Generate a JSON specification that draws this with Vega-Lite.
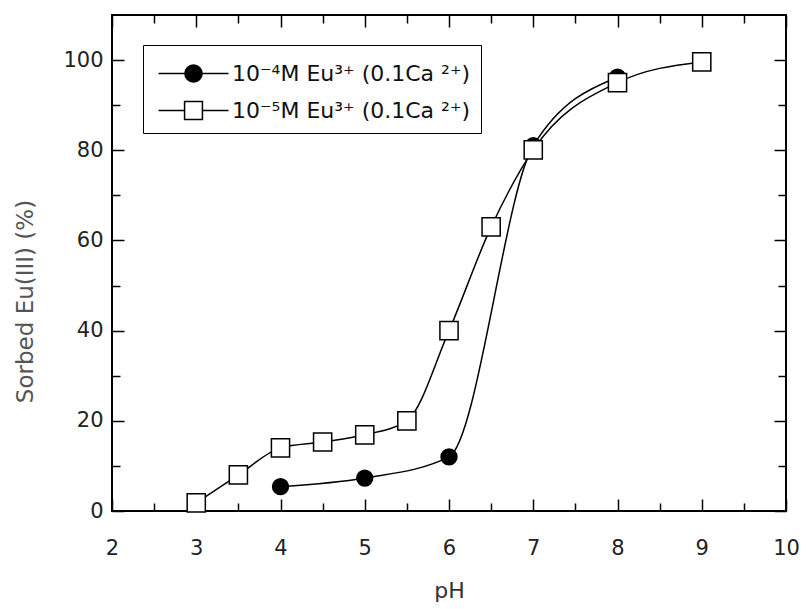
{
  "$schema": "https://vega.github.io/schema/vega-lite/v6.json",
  "width": 674,
  "height": 496,
  "autosize": "none",
  "padding": {"left": 112, "top": 15, "right": 22, "bottom": 98},
  "background": "white",
  "config": {
    "view": {"stroke": "black", "strokeWidth": 2},
    "font": "DejaVu Sans",
    "axis": {"labelFont": "DejaVu Sans", "titleFont": "DejaVu Sans", "grid": false, "domain": false, "tickColor": "black", "tickWidth": 1.5},
    "legend": {"labelFont": "DejaVu Sans"}
  },
  "data": {
    "values": [
      {"series": "10⁻⁴M Eu³⁺ (0.1Ca ²⁺)", "pH": 4, "sorbed": 5.4},
      {"series": "10⁻⁴M Eu³⁺ (0.1Ca ²⁺)", "pH": 5, "sorbed": 7.3},
      {"series": "10⁻⁴M Eu³⁺ (0.1Ca ²⁺)", "pH": 6, "sorbed": 12},
      {"series": "10⁻⁴M Eu³⁺ (0.1Ca ²⁺)", "pH": 7, "sorbed": 81},
      {"series": "10⁻⁴M Eu³⁺ (0.1Ca ²⁺)", "pH": 8, "sorbed": 96.2},
      {"series": "10⁻⁵M Eu³⁺ (0.1Ca ²⁺)", "pH": 3, "sorbed": 1.8},
      {"series": "10⁻⁵M Eu³⁺ (0.1Ca ²⁺)", "pH": 3.5, "sorbed": 8},
      {"series": "10⁻⁵M Eu³⁺ (0.1Ca ²⁺)", "pH": 4, "sorbed": 14},
      {"series": "10⁻⁵M Eu³⁺ (0.1Ca ²⁺)", "pH": 4.5, "sorbed": 15.3},
      {"series": "10⁻⁵M Eu³⁺ (0.1Ca ²⁺)", "pH": 5, "sorbed": 16.9},
      {"series": "10⁻⁵M Eu³⁺ (0.1Ca ²⁺)", "pH": 5.5, "sorbed": 20},
      {"series": "10⁻⁵M Eu³⁺ (0.1Ca ²⁺)", "pH": 6, "sorbed": 40},
      {"series": "10⁻⁵M Eu³⁺ (0.1Ca ²⁺)", "pH": 6.5, "sorbed": 63},
      {"series": "10⁻⁵M Eu³⁺ (0.1Ca ²⁺)", "pH": 7, "sorbed": 80.1},
      {"series": "10⁻⁵M Eu³⁺ (0.1Ca ²⁺)", "pH": 8, "sorbed": 95},
      {"series": "10⁻⁵M Eu³⁺ (0.1Ca ²⁺)", "pH": 9, "sorbed": 99.6}
    ]
  },
  "layer": [
    {
      "mark": {"type": "line", "interpolate": "monotone", "color": "black", "strokeWidth": 1.5},
      "encoding": {
        "x": {"field": "pH", "type": "quantitative", "scale": {"domain": [2, 10], "nice": false, "zero": false},
          "axis": {"orient": "bottom", "values": [2, 3, 4, 5, 6, 7, 8, 9, 10], "tickSize": -12, "labelFontSize": 21, "labelColor": "#222", "labelPadding": 38, "labelFlush": false,
            "title": "pH", "titleFontSize": 22, "titleFontWeight": "normal", "titleColor": "#333", "titleY": 79, "titleBaseline": "middle"}},
        "y": {"field": "sorbed", "type": "quantitative", "scale": {"domain": [0, 110], "nice": false, "zero": true},
          "axis": {"orient": "left", "values": [0, 20, 40, 60, 80, 100], "tickSize": -12, "labelFontSize": 21, "labelColor": "#222", "labelPadding": 21, "labelFlush": false,
            "title": "Sorbed Eu(III) (%)", "titleFontSize": 23, "titleFontWeight": "normal", "titleColor": "#555", "titleX": -87, "titleY": 286, "titleBaseline": "middle", "titleAngle": -90}},
        "detail": {"field": "series", "type": "nominal"}
      }
    },
    {
      "transform": [{"filter": "indexof(datum.series, '⁻⁴') >= 0"}],
      "mark": {"type": "point", "shape": "circle", "filled": true, "stroke": "black", "strokeWidth": 1.5, "opacity": 1, "size": 250},
      "encoding": {
        "x": {"field": "pH", "type": "quantitative",
          "axis": {"orient": "top", "values": [2, 3, 4, 5, 6, 7, 8, 9, 10], "tickSize": -12, "labels": false, "title": null}},
        "y": {"field": "sorbed", "type": "quantitative",
          "axis": {"orient": "right", "values": [0, 20, 40, 60, 80, 100], "tickSize": -12, "labels": false, "title": null}},
        "fill": {"field": "series", "type": "nominal",
          "scale": {"domain": ["10⁻⁴M Eu³⁺ (0.1Ca ²⁺)", "10⁻⁵M Eu³⁺ (0.1Ca ²⁺)"], "range": ["black", "white"]},
          "legend": {"title": null, "orient": "none", "legendX": 31, "legendY": 30, "direction": "vertical",
            "fillColor": "white", "strokeColor": "black", "padding": 10, "symbolSize": 1225, "symbolOffset": 22,
            "symbolType": {"expr": "indexof(datum.value, '⁻⁴') >= 0 ? 'M-2,0L-0.49,0M0.49,0L2,0M-0.49,0A0.49,0.49,0,1,1,0.49,0A0.49,0.49,0,1,1,-0.49,0Z' : 'M-2,0L-0.51,0M0.51,0L2,0M-0.51,-0.51L0.51,-0.51L0.51,0.51L-0.51,0.51Z'"},
            "symbolStrokeColor": "black", "symbolStrokeWidth": 1.5, "labelOffset": 20, "labelFontSize": 22, "labelLimit": 400, "labelColor": "#111", "rowPadding": 6,
            "encode": {
              "symbols": {
                "stroke": {"value": "black"},
                "strokeWidth": {"value": 1.5}
              },
              "legend": {"strokeWidth": {"value": 2}}
            }}}
      }
    },
    {
      "transform": [{"filter": "indexof(datum.series, '⁻⁵') >= 0"}],
      "mark": {"type": "point", "shape": "square", "filled": true, "stroke": "black", "strokeWidth": 1.5, "opacity": 1, "size": 330},
      "encoding": {
        "x": {"field": "pH", "type": "quantitative",
          "axis": {"orient": "bottom", "values": [2.5, 3.5, 4.5, 5.5, 6.5, 7.5, 8.5, 9.5], "tickSize": -8, "labels": false, "title": null}},
        "y": {"field": "sorbed", "type": "quantitative",
          "axis": {"orient": "left", "values": [10, 30, 50, 70, 90], "tickSize": -8, "labels": false, "title": null}},
        "fill": {"field": "series", "type": "nominal",
          "scale": {"domain": ["10⁻⁴M Eu³⁺ (0.1Ca ²⁺)", "10⁻⁵M Eu³⁺ (0.1Ca ²⁺)"], "range": ["black", "white"]},
          "legend": {"title": null, "orient": "none", "legendX": 31, "legendY": 30, "direction": "vertical",
            "fillColor": "white", "strokeColor": "black", "padding": 10, "symbolSize": 1225, "symbolOffset": 22,
            "symbolType": {"expr": "indexof(datum.value, '⁻⁴') >= 0 ? 'M-2,0L-0.49,0M0.49,0L2,0M-0.49,0A0.49,0.49,0,1,1,0.49,0A0.49,0.49,0,1,1,-0.49,0Z' : 'M-2,0L-0.51,0M0.51,0L2,0M-0.51,-0.51L0.51,-0.51L0.51,0.51L-0.51,0.51Z'"},
            "symbolStrokeColor": "black", "symbolStrokeWidth": 1.5, "labelOffset": 20, "labelFontSize": 22, "labelLimit": 400, "labelColor": "#111", "rowPadding": 6,
            "encode": {
              "symbols": {
                "stroke": {"value": "black"},
                "strokeWidth": {"value": 1.5}
              },
              "legend": {"strokeWidth": {"value": 2}}
            }}}
      }
    },
    {
      "mark": {"type": "point", "opacity": 0},
      "encoding": {
        "x": {"field": "pH", "type": "quantitative",
          "axis": {"orient": "top", "values": [2.5, 3.5, 4.5, 5.5, 6.5, 7.5, 8.5, 9.5], "tickSize": -8, "labels": false, "title": null}},
        "y": {"field": "sorbed", "type": "quantitative",
          "axis": {"orient": "right", "values": [10, 30, 50, 70, 90], "tickSize": -8, "labels": false, "title": null}}
      }
    }
  ],
  "resolve": {"axis": {"x": "independent", "y": "independent"}}
}
